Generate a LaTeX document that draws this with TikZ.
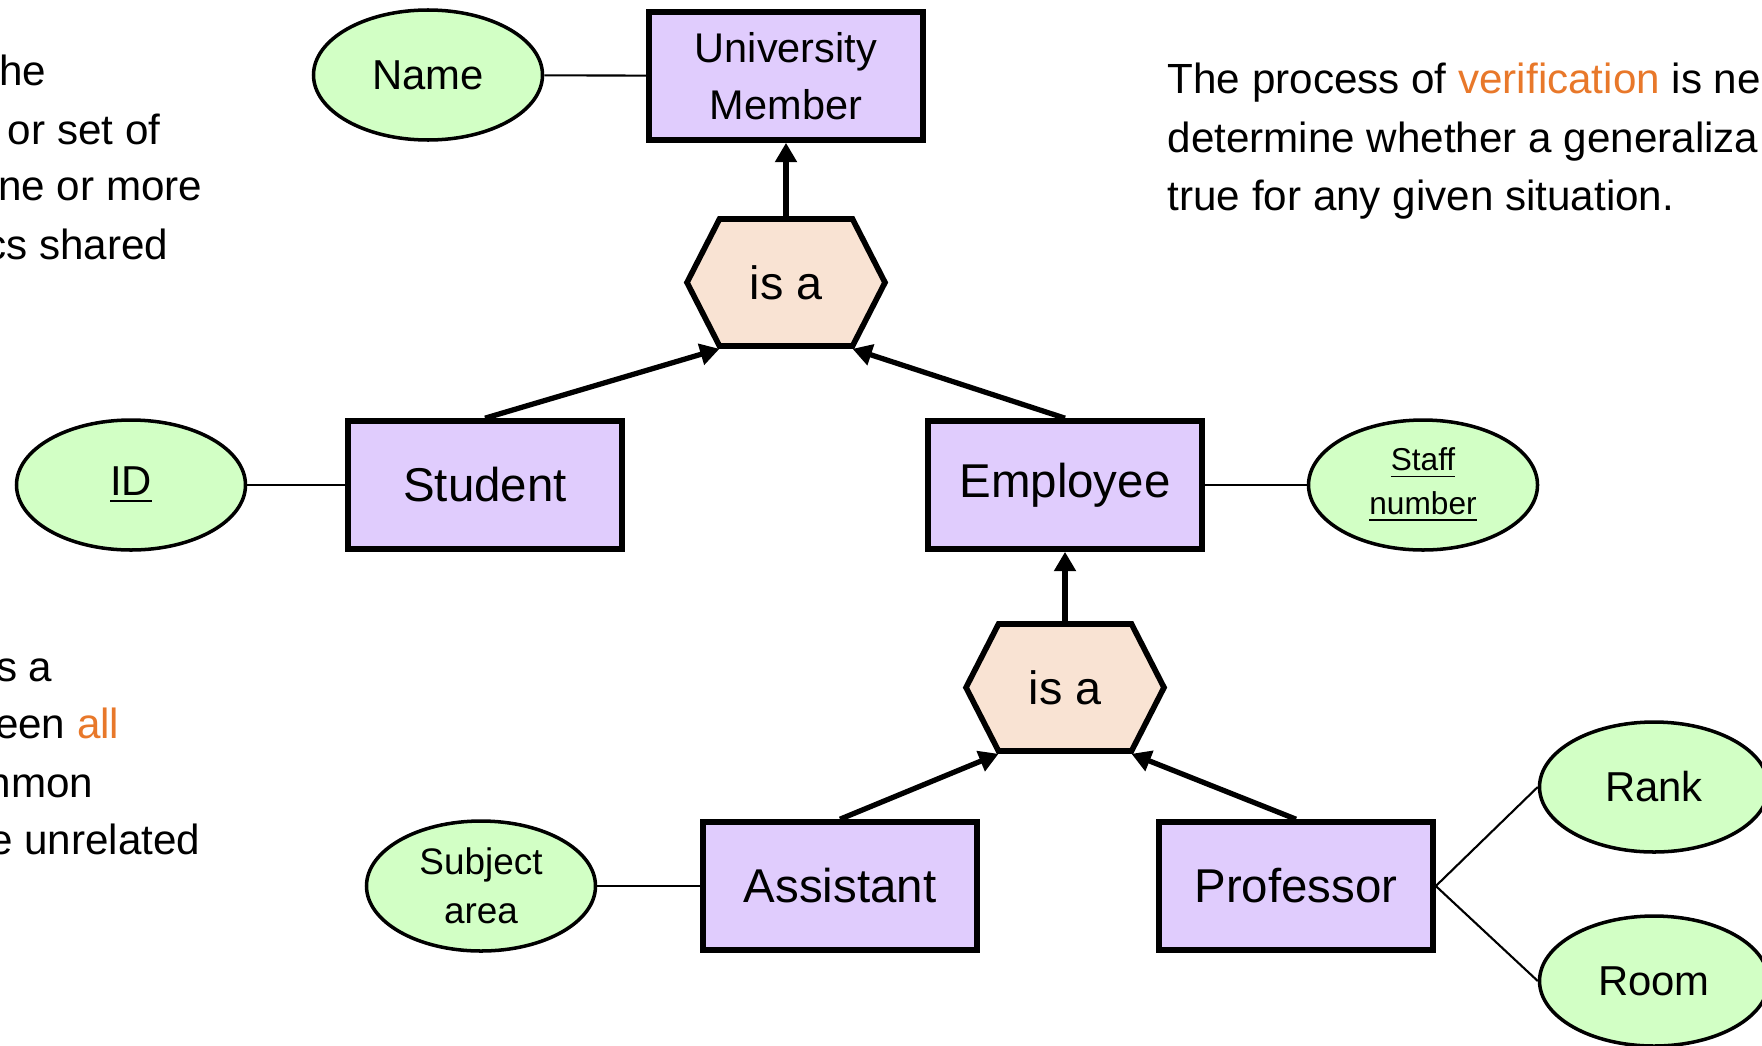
\documentclass[tikz,border=0pt]{standalone}
\usepackage{fontspec}
\setmainfont{Liberation Sans}
\usepackage{xcolor}
\usetikzlibrary{shapes.geometric,arrows.meta,calc}
\definecolor{EntityFill}{RGB}{224,204,253}
\definecolor{AttrFill}{RGB}{210,255,197}
\definecolor{IsaFill}{RGB}{249,227,211}
\definecolor{Accent}{RGB}{232,120,42}

\begin{document}
\begin{tikzpicture}[
  entity/.style={draw, line width=1.6pt, fill=EntityFill, minimum width=2.74cm, minimum height=1.28cm, inner sep=0pt, font=\fontsize{13.5}{16}\selectfont},
  attr/.style={draw, ellipse, line width=1pt, fill=AttrFill, minimum width=2.29cm, minimum height=1.30cm, inner sep=0pt, align=center, font=\fontsize{11.9}{14}\selectfont},
  hexa/.style={draw, line width=1.6pt, fill=IsaFill, line join=miter},
  isa/.style={minimum width=1.98cm, minimum height=1.27cm, inner sep=0pt, outer sep=0.8pt, font=\fontsize{13.3}{16}\selectfont},
  note/.style={inner sep=0pt, font=\fontsize{12}{16.5}\selectfont},
  link/.style={line width=0.6pt},
  inherit/.style={line width=1.5pt, -{Triangle[length=5.5pt,width=6pt]}}]
\useasboundingbox (0,0) rectangle (17.62,-10.45);
%
\filldraw[hexa] (7.86,-2.825) ++(-0.99,0) -- ++(0.325,0.635) -- ++(1.33,0) -- ++(0.325,-0.635) -- ++(-0.325,-0.635) -- ++(-1.33,0) -- cycle;
\filldraw[hexa] (10.65,-6.875) ++(-0.99,0) -- ++(0.325,0.635) -- ++(1.33,0) -- ++(0.325,-0.635) -- ++(-0.325,-0.635) -- ++(-1.33,0) -- cycle;
%
\node[entity, align=center, font=\fontsize{11.8}{16.4}\selectfont] (um) at (7.86,-0.76) {University\\Member};
\node[attr] (name) at (4.28,-0.75) {Name};
\node[isa] (isaA) at (7.86,-2.825) {is a};
%
\node[entity] (student) at (4.85,-4.85) {Student};
\node[attr] (id) at (1.31,-4.85) {\underline{ID}};
\node[entity] (employee) at (10.65,-4.85) {Employee};
\node[attr, font=\fontsize{9}{12.4}\selectfont] (staff) at (14.23,-4.85) {\underline{Staff}\\\underline{number}};
%
\node[isa] (isaB) at (10.65,-6.875) {is a};
\node[entity] (assistant) at (8.40,-8.86) {Assistant};
\node[attr, font=\fontsize{10.5}{14}\selectfont] (subject) at (4.81,-8.86) {Subject\\area};
\node[entity] (professor) at (12.96,-8.86) {Professor};
\node[attr] (rank) at (16.54,-7.87) {Rank};
\node[attr] (room) at (16.54,-9.81) {Room};
%
\draw[link] (name) -- (um);
\draw[link] (id) -- (student);
\draw[link] (employee) -- (staff);
\draw[link] (subject) -- (assistant);
\draw[link] (professor.east) -- (rank.west);
\draw[link] (professor.east) -- (room.west);
%
\draw[inherit] (isaA) -- (um);
\draw[inherit] (student.north) -- ($(isaA.south)+(-0.665,0)$);
\draw[inherit] (employee.north) -- ($(isaA.south)+(0.665,0)$);
\draw[inherit] (isaB) -- (employee);
\draw[inherit] (assistant.north) -- ($(isaB.south)+(-0.665,0)$);
\draw[inherit] (professor.north) -- ($(isaB.south)+(0.665,0)$);
%
\node[note, anchor=base east] (defA) at (0.47,-0.85) {he};
\node[note, anchor=base east] (defB) at (1.61,-1.44) {or set of};
\node[note, anchor=base east] (defC) at (2.03,-2.00) {ne or more};
\node[note, anchor=base east] (defD) at (1.69,-2.59) {cs shared};
%
\node[note, anchor=base east] (relA) at (0.53,-6.81) {s a};
\node[note, anchor=base east] (relB) at (1.20,-7.38) {een \textcolor{Accent}{all}};
\node[note, anchor=base east] (relC) at (0.94,-7.97) {nmon};
\node[note, anchor=base east] (relD) at (2.01,-8.54) {e unrelated};
%
\node[note, anchor=base west] (verA) at (11.67,-0.93) {The process of \textcolor{Accent}{verification} is ne};
\node[note, anchor=base west] (verB) at (11.67,-1.52) {determine whether a generaliza};
\node[note, anchor=base west] (verC) at (11.67,-2.10) {true for any given situation.};
\end{tikzpicture}
\end{document}
